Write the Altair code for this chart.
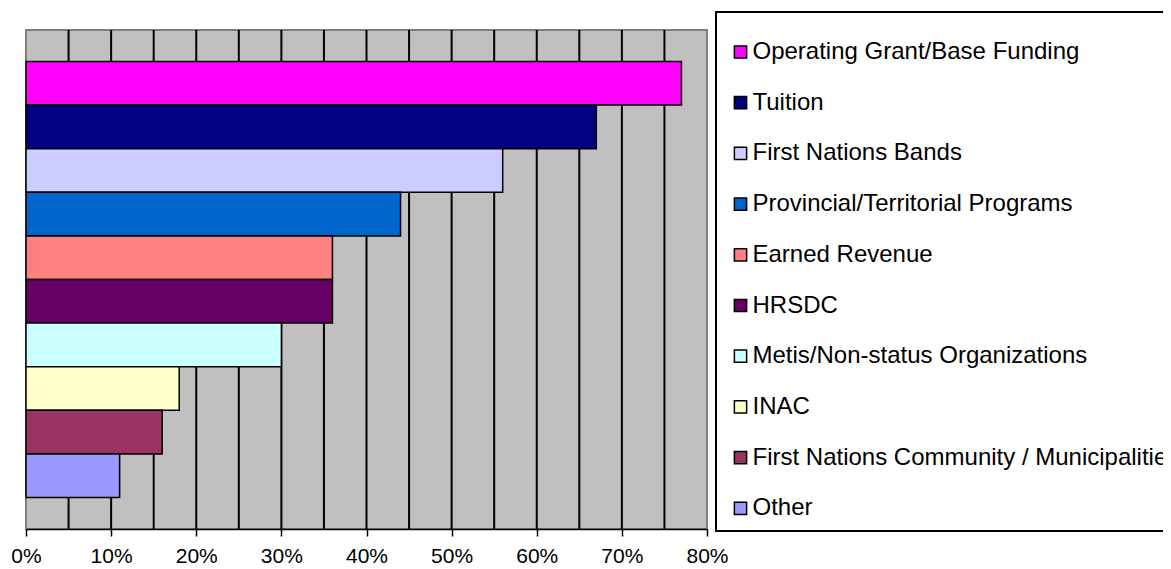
import altair as alt
import pandas as pd

categories = [
    "Operating Grant/Base Funding",
    "Tuition",
    "First Nations Bands",
    "Provincial/Territorial Programs",
    "Earned Revenue",
    "HRSDC",
    "Metis/Non-status Organizations",
    "INAC",
    "First Nations Community / Municipalities",
    "Other",
]
values = [77, 67, 56, 44, 36, 36, 30, 18, 16, 11]
colors = ["#FF00FF", "#000080", "#CCCCFF", "#0066CC", "#FF8080",
          "#660066", "#CCFFFF", "#FFFFCC", "#993366", "#9999FF"]
x_ticks = [0, 10, 20, 30, 40, 50, 60, 70, 80]
grid_lines = [5, 10, 15, 20, 25, 30, 35, 40, 45, 50, 55, 60, 65, 70, 75]

FONT = "Liberation Sans, Arial, sans-serif"

df = pd.DataFrame({"category": categories, "value": values})
grid_df = pd.DataFrame({"g": grid_lines})

xscale = alt.Scale(domain=[0, 80], nice=False, zero=True)


def x_axis():
    return alt.Axis(
        values=x_ticks,
        labelExpr="datum.value + '%'",
        grid=False,
        domainColor="black",
        domainWidth=1.5,
        tickColor="black",
        tickSize=7,
        tickWidth=1.5,
        labelFontSize=21,
        labelFont=FONT,
        labelColor="black",
        labelPadding=9,
        labelFlush=False,
        labelOverlap=False,
        labelBound=False,
        title=None,
    )


rules = alt.Chart(grid_df).mark_rule(color="black", strokeWidth=2).encode(
    x=alt.X("g:Q", scale=xscale, axis=x_axis(), title=None)
)

bars = alt.Chart(df).mark_bar(stroke="black", strokeWidth=1.5).encode(
    x=alt.X("value:Q", scale=xscale, axis=x_axis(), title=None),
    y=alt.Y(
        "category:N",
        sort=categories,
        axis=None,
        scale=alt.Scale(domain=categories, paddingInner=0, paddingOuter=0.72),
    ),
    color=alt.Color(
        "category:N",
        scale=alt.Scale(domain=categories, range=colors),
        legend=alt.Legend(
            orient="none",
            legendX=690,
            legendY=-18,
            title=" ",
            titleFontSize=10,
            titlePadding=8,
            padding=10,
            strokeColor="black",
            fillColor="white",
            symbolType="square",
            symbolSize=150,
            symbolStrokeColor="black",
            symbolStrokeWidth=1.5,
            symbolOpacity=1,
            symbolOffset=2.5,
            labelFontSize=24,
            labelFont=FONT,
            labelColor="black",
            labelLimit=1000,
            labelOffset=0,
            rowPadding=26.7,
        ),
    ),
)

chart = (
    alt.layer(rules, bars)
    .properties(
        width=681,
        height=499,
        padding={"left": 18, "top": 22, "right": 456, "bottom": 40},
        autosize=alt.AutoSizeParams(type="none"),
        background="white",
    )
    .configure_view(fill="#C0C0C0", stroke="#808080", strokeWidth=2)
    .configure_legend(strokeWidth=2)
)

chart.save("out.html", embed_options={"renderer": "svg", "actions": False})
